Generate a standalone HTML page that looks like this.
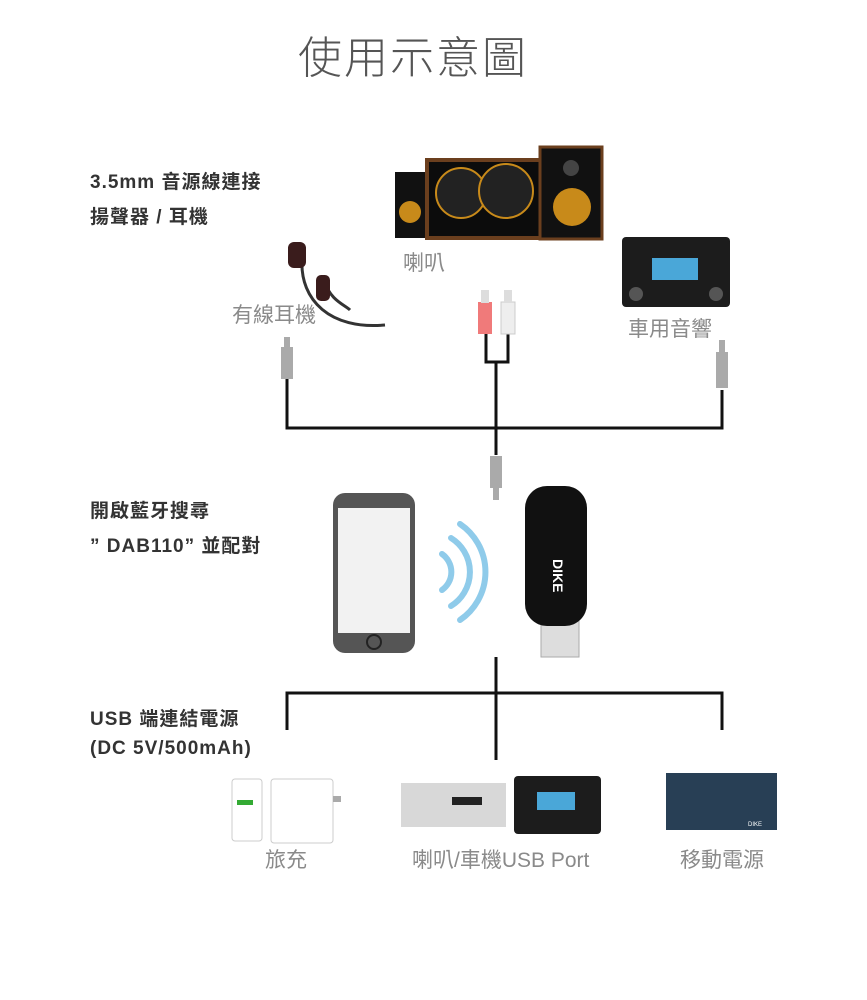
<!DOCTYPE html>
<html><head><meta charset="utf-8"><style>
body{margin:0;background:#fff;width:867px;height:1000px;position:relative;overflow:hidden;font-family:"Liberation Sans","Noto Sans CJK TC",sans-serif}
.a{position:absolute;white-space:nowrap}
.b{font-weight:bold;color:#333;font-size:19px;letter-spacing:1px}
.g{color:#8a8a8a;font-size:21px}
</style></head><body>
<div class="a" style="left:298px;top:22px;font-size:44px;color:#555;letter-spacing:2px;font-weight:300">使用示意圖</div>
<div class="a b" style="left:90px;top:167px">3.5mm 音源線連接</div>
<div class="a b" style="left:90px;top:202px">揚聲器 / 耳機</div>
<div class="a b" style="left:90px;top:496px">開啟藍牙搜尋</div>
<div class="a b" style="left:90px;top:531px">” DAB110” 並配對</div>
<div class="a b" style="left:90px;top:704px">USB 端連結電源</div>
<div class="a b" style="left:90px;top:738px">(DC 5V/500mAh)</div>
<div class="a g" style="left:232px;top:299px">有線耳機</div>
<div class="a g" style="left:403px;top:247px">喇叭</div>
<div class="a g" style="left:628px;top:313px">車用音響</div>
<div class="a g" style="left:265px;top:844px">旅充</div>
<div class="a g" style="left:412px;top:844px">喇叭/車機USB Port</div>
<div class="a g" style="left:680px;top:844px">移動電源</div>

<svg class="a" style="left:0;top:0" width="867" height="1000">
<g fill="none" stroke="#111" stroke-width="3">
<path d="M287 378V428H722V390"/><path d="M496 362V455"/><path d="M486 330V362H508V330"/>
<path d="M496 657V760"/><path d="M287 730V693H722V730"/>
</g>
<!-- speakers -->
<rect x="395" y="172" width="32" height="66" fill="#111"/>
<rect x="427" y="160" width="120" height="78" fill="#0c0c0c" stroke="#6b3f1e" stroke-width="4"/>
<rect x="540" y="147" width="62" height="92" fill="#111" stroke="#6b3f1e" stroke-width="3"/>
<circle cx="461" cy="193" r="25" fill="#222" stroke="#c88a1a" stroke-width="2"/>
<circle cx="506" cy="191" r="27" fill="#222" stroke="#c88a1a" stroke-width="2"/>
<circle cx="572" cy="207" r="19" fill="#c88a1a"/><circle cx="571" cy="168" r="8" fill="#444"/>
<circle cx="410" cy="212" r="11" fill="#c88a1a"/>
<!-- car stereo top -->
<rect x="622" y="237" width="108" height="70" rx="4" fill="#1c1c1c"/>
<rect x="652" y="258" width="46" height="22" fill="#4aa7d8"/>
<circle cx="636" cy="294" r="7" fill="#555"/><circle cx="716" cy="294" r="7" fill="#555"/>
<!-- earphones -->
<path d="M302 260C300 300 330 330 385 325M325 282C330 300 345 305 350 310" stroke="#333" stroke-width="3" fill="none"/>
<rect x="288" y="242" width="18" height="26" rx="6" fill="#3a1c1c"/>
<rect x="316" y="275" width="14" height="26" rx="5" fill="#3a1c1c"/>
<!-- jacks -->
<g fill="#aaa"><rect x="281" y="347" width="12" height="32"/><rect x="284" y="337" width="6" height="12"/>
<rect x="716" y="352" width="12" height="36"/><rect x="719" y="340" width="6" height="13"/>
<rect x="490" y="456" width="12" height="32"/><rect x="493" y="486" width="6" height="14"/></g>
<rect x="478" y="302" width="14" height="32" fill="#f07a7a"/><rect x="481" y="290" width="8" height="13" fill="#ddd"/>
<rect x="501" y="302" width="14" height="32" fill="#eee" stroke="#ccc"/><rect x="504" y="290" width="8" height="13" fill="#ddd"/>
<!-- phone -->
<rect x="333" y="493" width="82" height="160" rx="12" fill="#555"/>
<rect x="338" y="508" width="72" height="125" fill="#f2f2f2"/>
<circle cx="374" cy="642" r="7" fill="none" stroke="#222" stroke-width="2"/>
<!-- waves -->
<g fill="none" stroke="#8fcbea" stroke-width="6" stroke-linecap="round">
<path d="M442 554A22 22 0 0 1 442 590"/><path d="M451 538A40 40 0 0 1 451 606"/><path d="M460 524A58 58 0 0 1 460 620"/></g>
<!-- dongle -->
<rect x="541" y="610" width="38" height="47" fill="#ddd" stroke="#aaa"/>
<rect x="525" y="486" width="62" height="140" rx="22" fill="#111"/>
<text x="562" y="560" fill="#fff" font-size="14" font-weight="bold" transform="rotate(90 558 555)" font-family="Liberation Sans">DIKE</text>
<!-- charger -->
<rect x="232" y="779" width="30" height="62" rx="3" fill="#fff" stroke="#ccc"/>
<rect x="237" y="800" width="16" height="5" fill="#3a3"/>
<rect x="271" y="779" width="62" height="64" rx="3" fill="#fff" stroke="#ccc"/>
<rect x="333" y="796" width="8" height="6" fill="#aaa"/>
<!-- amp -->
<rect x="401" y="783" width="105" height="44" fill="#d8d8d8"/><rect x="452" y="797" width="30" height="8" fill="#222"/>
<rect x="514" y="776" width="87" height="58" rx="4" fill="#1c1c1c"/><rect x="537" y="792" width="38" height="18" fill="#4aa7d8"/>
<!-- power bank -->
<rect x="666" y="773" width="111" height="57" fill="#283f55"/>
<text x="748" y="826" fill="#fff" font-size="6" font-family="Liberation Sans">DIKE</text>
</svg>
</body></html>
